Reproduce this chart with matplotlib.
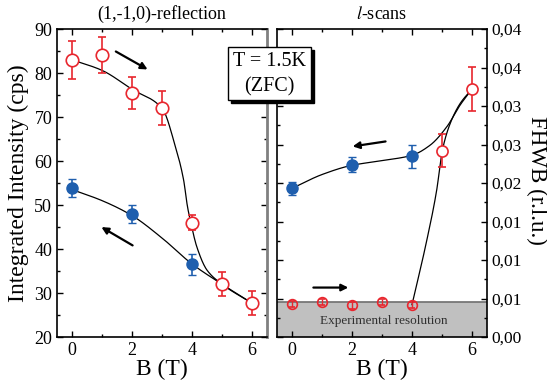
import numpy as np
import matplotlib
matplotlib.use("Agg")
import matplotlib.pyplot as plt
from matplotlib.patches import Rectangle
from matplotlib.ticker import MultipleLocator, FixedLocator

plt.rcParams["font.family"] = ["Liberation Serif", "DejaVu Serif"]
plt.rcParams["mathtext.fontset"] = "stix"

RED = "#e8262e"
BLUE = "#1f5fae"

# (1,-1,0)-reflection, integrated intensity
B_up = [0, 1, 2, 3, 4, 5, 6]
I_up = [83.0, 84.1, 75.4, 72.0, 46.0, 32.0, 27.7]
I_up_err = [4.3, 4.0, 3.6, 3.8, 1.7, 2.7, 2.7]
B_down = [0, 2, 4]
I_down = [53.8, 48.0, 36.5]
I_down_err = [2.0, 2.0, 2.3]

# guide lines
guide_up_B = [0, 1, 2, 3, 3.45, 3.72, 3.85, 3.96, 4.16, 4.5, 5, 6]
guide_up_I = [83.0, 80.6, 76.3, 72.0, 63.2, 55.7, 49.6, 46.0, 40.5, 35.2, 32.0, 27.7]
guide_down_B = [0, 1, 2, 3, 4, 5, 6]
guide_down_I = [53.5, 51.0, 47.6, 42.5, 36.6, 32.0, 27.7]

# l-scans, FHWB
Bl_up = [0, 1, 2, 3, 4, 5, 6]
W_up = [0.0043, 0.0045, 0.0041, 0.0046, 0.0042, 0.0242, 0.0322]
W_up_err = [0.0004, 0.0004, 0.0004, 0.0004, 0.0004, 0.0021, 0.0029]
Bl_down = [0, 2, 4]
W_down = [0.0193, 0.0224, 0.0235]
W_down_err = [0.0008, 0.0010, 0.0015]

guide_wup_B = [4.0, 4.49, 4.82, 5.01, 5.27, 5.6, 6.0]
guide_wup_W = [0.0042, 0.0125, 0.0190, 0.0242, 0.0277, 0.0303, 0.0322]
guide_wdown_B = [0, 1, 2, 3, 4, 4.6, 5.16, 5.6, 6.0]
guide_wdown_W = [0.0193, 0.0211, 0.0223, 0.0229, 0.0236, 0.0249, 0.0273, 0.0301, 0.0322]

resolution = 0.0045
w_ticks = [0, 0.005, 0.010, 0.015, 0.020, 0.025, 0.030, 0.035, 0.040]
w_labels = ["0,00", "0,01", "0,01", "0,01", "0,02", "0,03", "0,03", "0,04", "0,04"]


def pchip(x, y, n=300):
    x = np.asarray(x, float)
    y = np.asarray(y, float)
    h = np.diff(x)
    d = np.diff(y) / h
    m = np.zeros_like(y)
    for k in range(1, len(x) - 1):
        if d[k - 1] * d[k] > 0:
            w1 = 2 * h[k] + h[k - 1]
            w2 = h[k] + 2 * h[k - 1]
            m[k] = (w1 + w2) / (w1 / d[k - 1] + w2 / d[k])
    m[0] = d[0]
    m[-1] = d[-1]
    xs = np.linspace(x[0], x[-1], n)
    idx = np.clip(np.searchsorted(x, xs) - 1, 0, len(h) - 1)
    t = (xs - x[idx]) / h[idx]
    h00 = 2 * t**3 - 3 * t**2 + 1
    h10 = t**3 - 2 * t**2 + t
    h01 = -2 * t**3 + 3 * t**2
    h11 = t**3 - t**2
    ys = h00 * y[idx] + h10 * h[idx] * m[idx] + h01 * y[idx + 1] + h11 * h[idx] * m[idx + 1]
    return xs, ys


def style_axes(ax):
    ax.tick_params(which="both", direction="in", top=True, right=True, labelsize=13, width=1.0)
    ax.tick_params(which="major", length=4.5)
    ax.tick_params(which="minor", length=2.5)
    for s in ax.spines.values():
        s.set_linewidth(1.2)
    ax.set_xlim(-0.5, 6.5)
    ax.xaxis.set_major_locator(FixedLocator([0, 2, 4, 6]))
    ax.xaxis.set_minor_locator(MultipleLocator(1))


fig = plt.figure(figsize=(5.47, 3.88), dpi=100)
ax1 = fig.add_axes([57 / 547, 1 - 337 / 388, 210 / 547, 308 / 388])
ax2 = fig.add_axes([277 / 547, 1 - 337 / 388, 210 / 547, 308 / 388])

# left panel
style_axes(ax1)
ax1.set_ylim(20, 90)
ax1.yaxis.set_major_locator(MultipleLocator(10))
ax1.yaxis.set_minor_locator(MultipleLocator(5))
ax1.spines["right"].set_color("#808080")
ax1.spines["right"].set_linewidth(2)

gx, gy = pchip(guide_up_B, guide_up_I)
ax1.plot(gx, gy, color="black", lw=0.9, zorder=2)
gx, gy = pchip(guide_down_B, guide_down_I)
ax1.plot(gx, gy, color="black", lw=0.9, zorder=2)
ax1.errorbar(B_up, I_up, yerr=I_up_err, fmt="o", ms=9, mfc="white", mec=RED, mew=1.2,
             ecolor=RED, elinewidth=1.2, capsize=3, zorder=3)
ax1.errorbar(B_down, I_down, yerr=I_down_err, fmt="o", ms=8, mfc=BLUE, mec=BLUE,
             ecolor=BLUE, elinewidth=1.2, capsize=3, zorder=3)
ax1.annotate("", xy=(2.6, 80.5), xytext=(1.38, 85.2),
             arrowprops=dict(arrowstyle="-|>", color="black", lw=1.6, mutation_scale=10))
ax1.annotate("", xy=(0.9, 45.3), xytext=(2.1, 40.5),
             arrowprops=dict(arrowstyle="-|>", color="black", lw=1.6, mutation_scale=10))
ax1.set_title("(1,-1,0)-reflection", fontsize=13, pad=7)
ax1.set_ylabel("Integrated Intensity (cps)", fontsize=17, labelpad=4)
ax1.set_xlabel("B (T)", fontsize=17, labelpad=0)

# right panel
style_axes(ax2)
ax2.set_ylim(0, 0.040)
ax2.yaxis.set_major_locator(FixedLocator(w_ticks))
ax2.yaxis.set_minor_locator(MultipleLocator(0.0025))
ax2.set_yticklabels(w_labels)
ax2.tick_params(axis="y", labelleft=False, labelright=True, labelsize=12.5)
ax2.axhspan(0, resolution, color="#c0c0c0", zorder=0)
ax2.axhline(resolution, color="#707070", lw=1.2, zorder=1)
ax2.text(3.07, 0.0021, "Experimental resolution", fontsize=9.5, ha="center", va="center", color="#303030")

gx, gy = pchip(guide_wup_B, guide_wup_W)
ax2.plot(gx, gy, color="black", lw=0.9, zorder=2)
gx, gy = pchip(guide_wdown_B, guide_wdown_W)
ax2.plot(gx, gy, color="black", lw=0.9, zorder=2)
ax2.errorbar(Bl_up[:5], W_up[:5], yerr=W_up_err[:5], fmt="o", ms=7, mfc="none", mec=RED, mew=1.2,
             ecolor=RED, elinewidth=1.0, capsize=2.5, zorder=3)
ax2.errorbar(Bl_up[5:], W_up[5:], yerr=W_up_err[5:], fmt="o", ms=8, mfc="white", mec=RED, mew=1.2,
             ecolor=RED, elinewidth=1.2, capsize=3, zorder=3)
ax2.errorbar(Bl_down, W_down, yerr=W_down_err, fmt="o", ms=8, mfc=BLUE, mec=BLUE,
             ecolor=BLUE, elinewidth=1.2, capsize=3, zorder=3)
ax2.annotate("", xy=(1.93, 0.0247), xytext=(3.21, 0.02545),
             arrowprops=dict(arrowstyle="-|>", color="black", lw=1.6, mutation_scale=10))
ax2.annotate("", xy=(1.97, 0.00642), xytext=(0.62, 0.00642),
             arrowprops=dict(arrowstyle="-|>", color="black", lw=1.6, mutation_scale=10))
ax2.set_title("$l$-scans", fontsize=13, pad=7)
ax2.set_xlabel("B (T)", fontsize=17, labelpad=0)
fig.text(537 / 547, 1 - 180 / 388, "FHWB (r.l.u.)", fontsize=16.5, rotation=270,
         ha="center", va="center")

# T = 1.5K box with shadow
bx0, bx1 = 228 / 547, 311 / 547
by0, by1 = 1 - 100 / 388, 1 - 47 / 388
fig.patches.append(Rectangle((bx0 + 3 / 547, by0 - 3 / 388), bx1 - bx0, by1 - by0,
                             transform=fig.transFigure, facecolor="black", edgecolor="black", zorder=5))
fig.patches.append(Rectangle((bx0, by0), bx1 - bx0, by1 - by0, transform=fig.transFigure,
                             facecolor="white", edgecolor="black", lw=1.0, zorder=6))
fig.text((bx0 + bx1) / 2, 1 - 62 / 388, "T = 1.5K", fontsize=14.5, ha="center", va="center", zorder=7)
fig.text((bx0 + bx1) / 2, 1 - 87 / 388, "(ZFC)", fontsize=14.5, ha="center", va="center", zorder=7)

fig.savefig("out.png", dpi=100)
